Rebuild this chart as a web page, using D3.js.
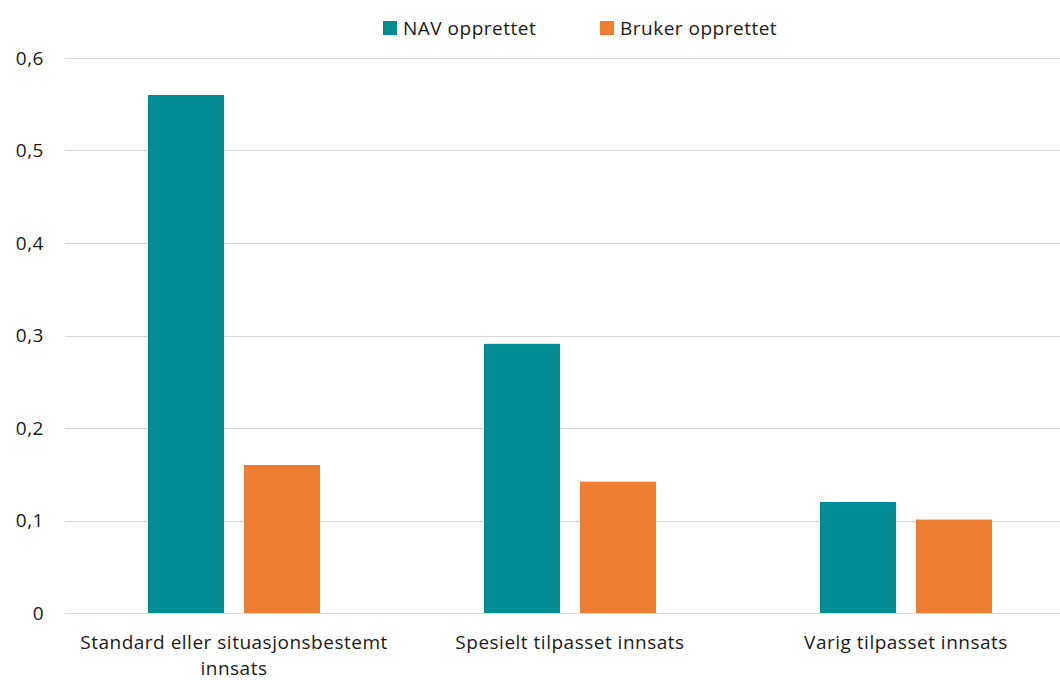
<!DOCTYPE html>
<html>
<head>
<meta charset="utf-8">
<script src="https://cdn.jsdelivr.net/npm/d3@7"></script>
<style>
  body { margin: 0; background: white; }
  text { font-family: "Open Sans", sans-serif; fill: #1a1a1a; }
</style>
</head>
<body>
<div id="chart"></div>
<script>
// data
const categories = [["Standard eller situasjonsbestemt", "innsats"], ["Spesielt tilpasset innsats"], ["Varig tilpasset innsats"]];
const seriesNames = ["NAV opprettet", "Bruker opprettet"];
const navValues = [0.56, 0.291, 0.12];
const brukerValues = [0.16, 0.142, 0.101];
const yTicks = [0, 0.1, 0.2, 0.3, 0.4, 0.5, 0.6];
const colors = ["#008C93", "#ED7D31"];

const width = 1060, height = 680;
const margin = {top: 58, right: -14, bottom: 67, left: 66};

const svg = d3.select("#chart").append("svg")
  .attr("width", width)
  .attr("height", height)
  .style("background-color", "white");

const catIdx = categories.map((d, i) => i);

// outer scale for categories
const x0 = d3.scaleBand()
  .domain(catIdx)
  .range([margin.left, width - margin.right]);

// inner scale for the two series inside a category
const x1 = d3.scaleBand()
  .domain(seriesNames)
  .range([82, x0.bandwidth() - 82])
  .paddingInner(0.2083);

const y = d3.scaleLinear()
  .domain([0, 0.6])
  .range([height - margin.bottom, margin.top]);

const fmt = d => d === 0 ? "0" : d3.format(".1f")(d).replace(".", ",");

// gridlines
svg.append("g")
  .selectAll("line")
  .data(yTicks)
  .enter().append("line")
    .attr("x1", margin.left - 1)
    .attr("x2", width)
    .attr("y1", d => Math.round(y(d)) + 0.5)
    .attr("y2", d => Math.round(y(d)) + 0.5)
    .attr("stroke", "#d9d9d9")
    .attr("stroke-width", 1);

// y tick labels
svg.append("g")
  .selectAll("text")
  .data(yTicks)
  .enter().append("text")
    .attr("x", 44)
    .attr("y", d => y(d))
    .attr("dy", "0.35em")
    .attr("text-anchor", "end")
    .style("font-size", "19px")
    .style("letter-spacing", "0.5px")
    .text(fmt);

// bars
const rows = catIdx.map(i => ({cat: i, values: [navValues[i], brukerValues[i]]}));

const groups = svg.append("g")
  .selectAll("g")
  .data(rows)
  .enter().append("g")
    .attr("transform", d => `translate(${x0(d.cat)},0)`);

groups.selectAll("rect")
  .data(d => d.values.map((v, k) => ({name: seriesNames[k], value: v, k: k})))
  .enter().append("rect")
    .attr("x", d => x1(d.name))
    .attr("y", d => y(d.value))
    .attr("width", x1.bandwidth())
    .attr("height", d => y(0) - y(d.value))
    .attr("fill", d => colors[d.k]);

// category labels
const xl = svg.append("g")
  .selectAll("text")
  .data(catIdx)
  .enter().append("text")
    .attr("x", d => x0(d) + x0.bandwidth() / 2)
    .attr("y", 649)
    .attr("text-anchor", "middle")
    .style("font-size", "19px")
    .style("letter-spacing", "0.5px");

xl.selectAll("tspan")
  .data(d => categories[d])
  .enter().append("tspan")
    .attr("x", function() { return d3.select(this.parentNode).attr("x"); })
    .attr("dy", (d, i) => i === 0 ? 0 : 26)
    .text(d => d);

// legend
const legendX = [383, 600];
const legend = svg.append("g")
  .selectAll("g")
  .data(seriesNames)
  .enter().append("g")
    .attr("transform", (d, i) => `translate(${legendX[i]},21)`);

legend.append("rect")
  .attr("width", 14)
  .attr("height", 14)
  .attr("fill", (d, i) => colors[i]);

legend.append("text")
  .attr("x", 20)
  .attr("y", 7)
  .attr("dy", "0.35em")
  .style("font-size", "19px")
  .style("letter-spacing", "0.5px")
  .text(d => d);
</script>
</body>
</html>
